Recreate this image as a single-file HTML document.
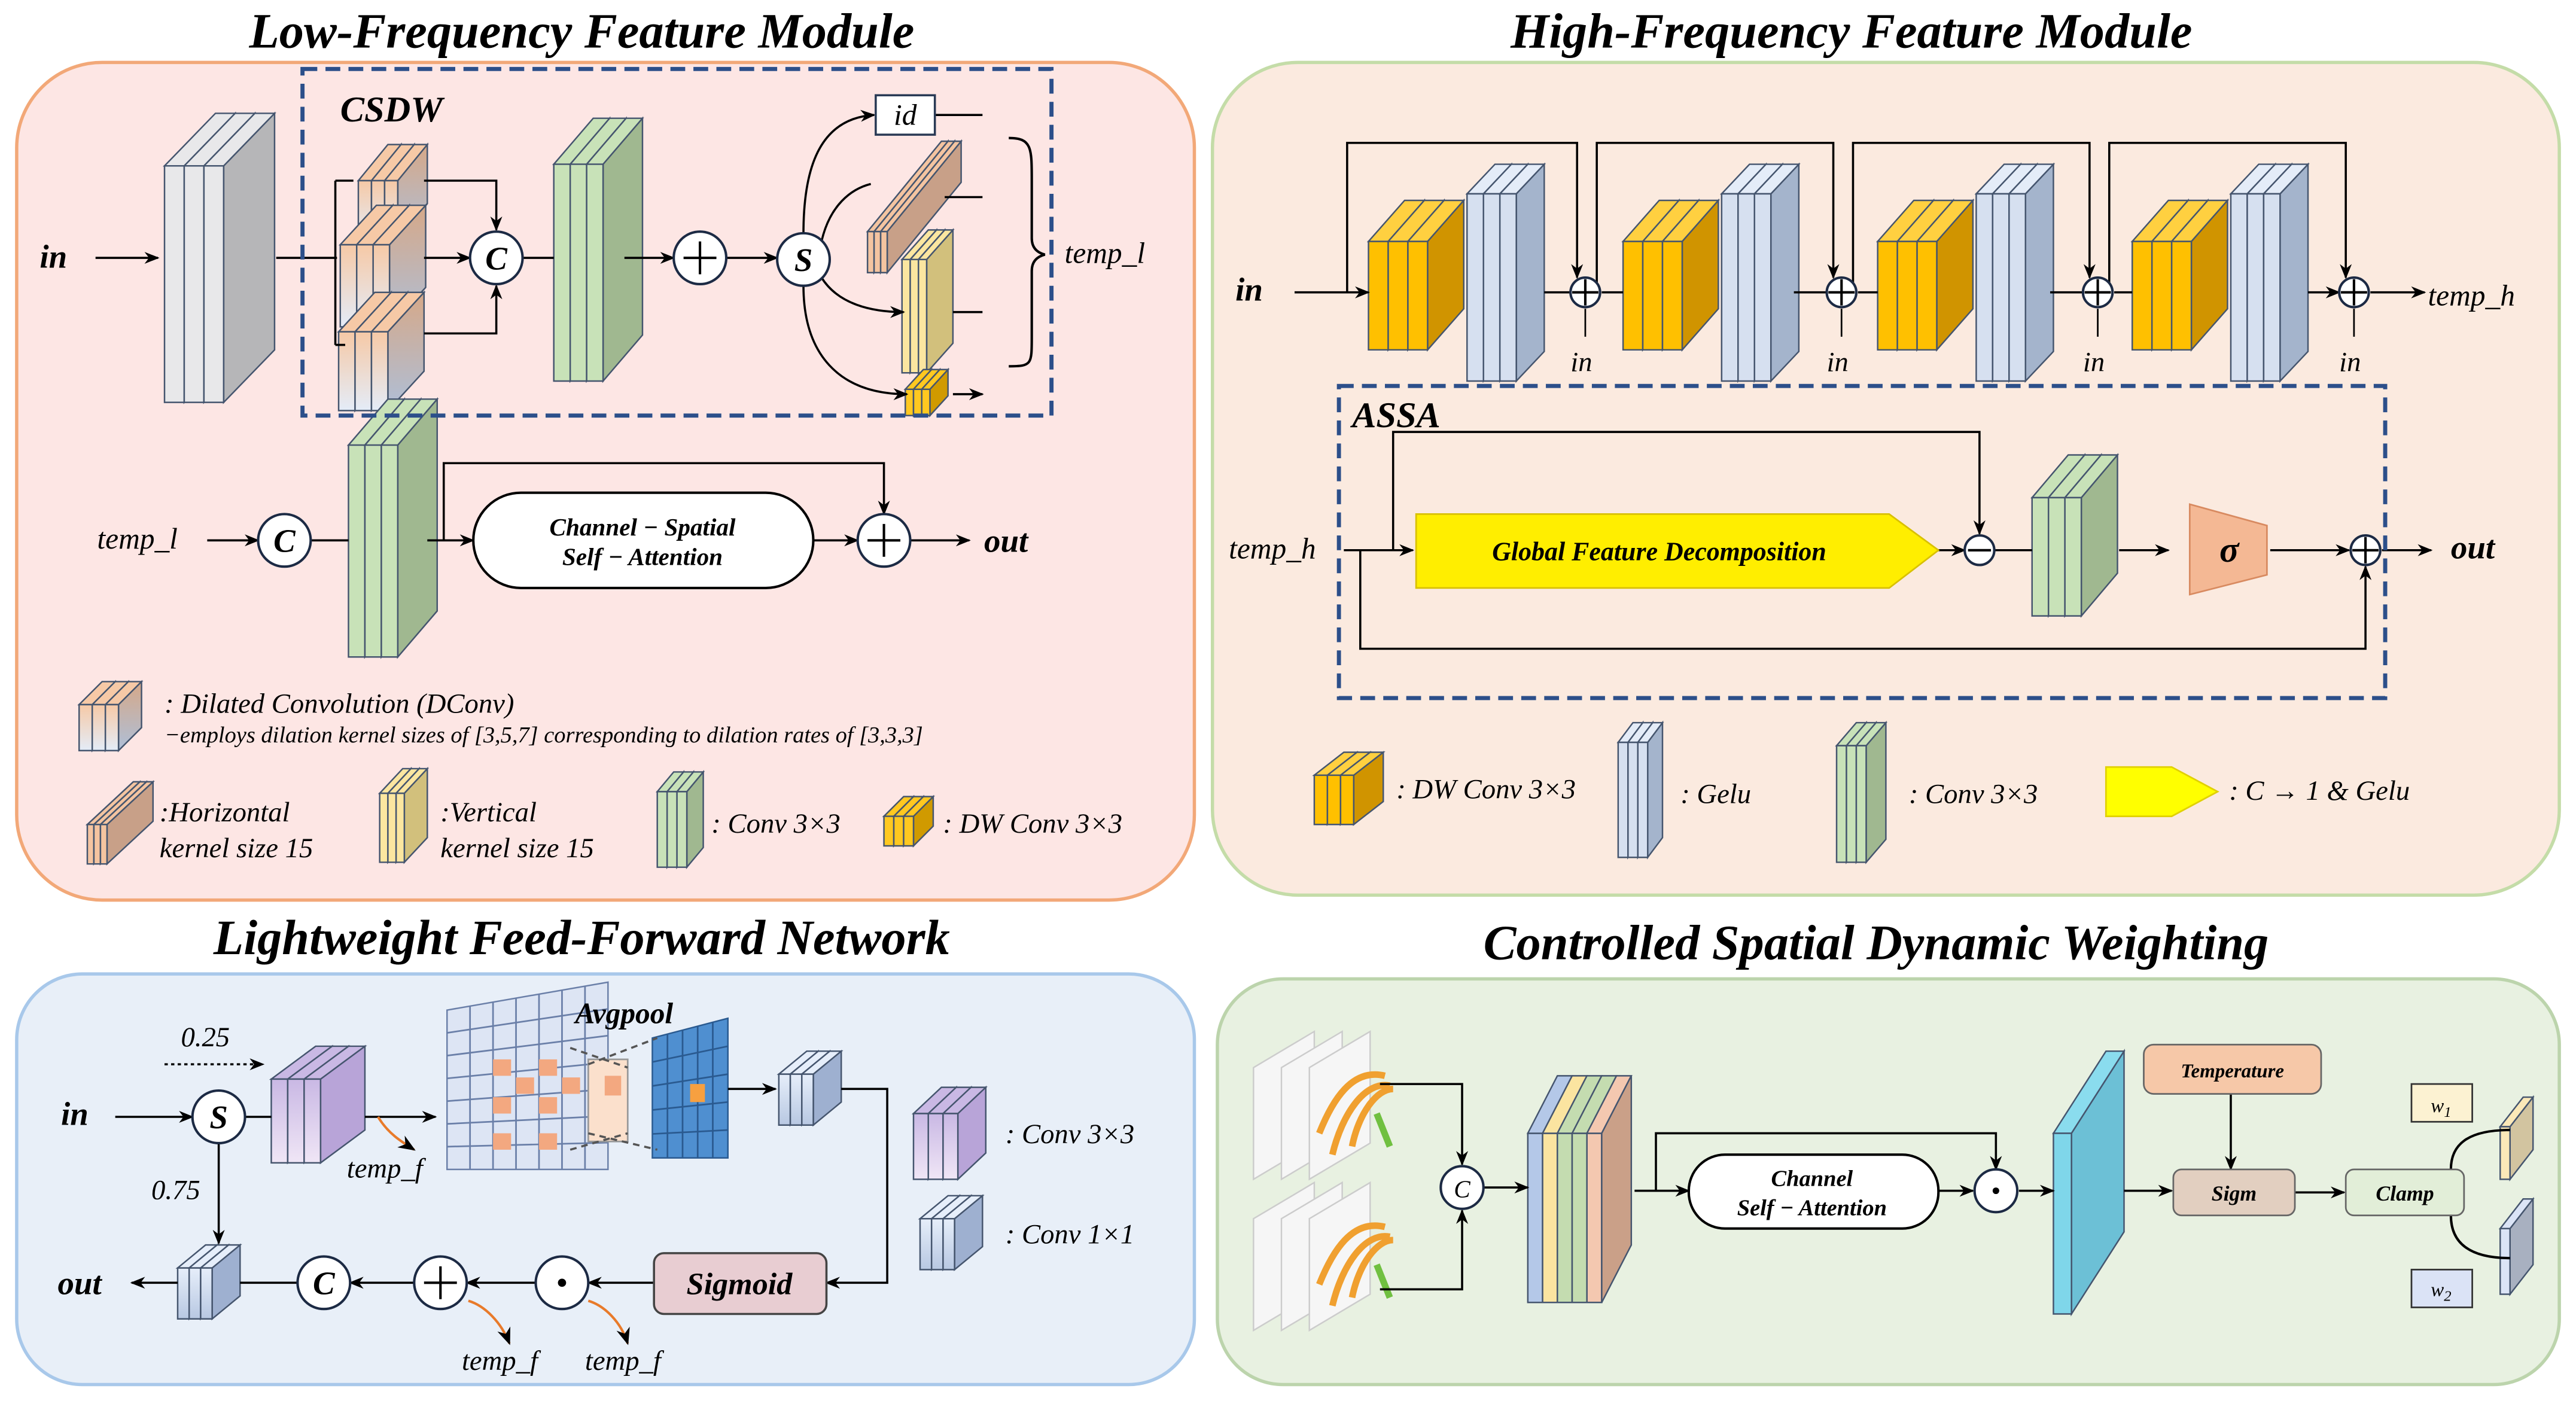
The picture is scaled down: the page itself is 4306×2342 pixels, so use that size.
<!DOCTYPE html>
<html><head><meta charset="utf-8"><style>
html,body{margin:0;padding:0;background:#fff}
svg{display:block}
text{font-family:"Liberation Serif",serif;font-style:italic}
.t{font-size:30px;font-weight:bold}
.b{font-weight:bold}
</style></head><body>
<svg id="s" xmlns="http://www.w3.org/2000/svg" width="4306" height="2342" viewBox="0 0 1568 853">
<defs>
<marker id="a" viewBox="0 0 10 10" refX="9" refY="5" markerWidth="7" markerHeight="7" orient="auto"><path d="M0,1 L10,5 L0,9 L3,5z" fill="#000"/></marker>
<linearGradient id="dc" x1="0" y1="0" x2="0" y2="1"><stop offset="0" stop-color="#f6c9a6"/><stop offset="1" stop-color="#e4ecf8"/></linearGradient>
<linearGradient id="dcs" x1="0" y1="0" x2="0" y2="1"><stop offset="0" stop-color="#d6a888"/><stop offset="1" stop-color="#aebfd8"/></linearGradient>
<linearGradient id="pu" x1="0" y1="0" x2="0" y2="1"><stop offset="0" stop-color="#c9b8e4"/><stop offset="1" stop-color="#f0e6f6"/></linearGradient>
<linearGradient id="bl" x1="0" y1="0" x2="0" y2="1"><stop offset="0" stop-color="#e6eefa"/><stop offset="1" stop-color="#b8c8e2"/></linearGradient>
</defs>
<rect x="10" y="38" width="717" height="510" rx="52" fill="#fde6e4" stroke="#f2a878" stroke-width="2"/>
<rect x="738" y="38" width="820" height="507" rx="52" fill="#fbeadf" stroke="#c4dca8" stroke-width="2"/>
<rect x="10" y="593" width="717" height="250" rx="40" fill="#e8eff8" stroke="#a8c8ea" stroke-width="2"/>
<rect x="741" y="596" width="817" height="247" rx="40" fill="#e8f1e1" stroke="#bcd4ac" stroke-width="2"/>
<text class="t" x="354" y="29" text-anchor="middle">Low-Frequency Feature Module</text>
<text class="t" x="1127" y="29" text-anchor="middle">High-Frequency Feature Module</text>
<text class="t" x="354" y="581" text-anchor="middle">Lightweight Feed-Forward Network</text>
<text class="t" x="1142" y="584" text-anchor="middle">Controlled Spatial Dynamic Weighting</text>
<g id="shapes"></g>
<g fill="none" stroke="#000" stroke-width="1.3">
<path d="M58,157H96" marker-end="url(#a)"/>
<path d="M168,157H205M204,110V210M204,110H215M204,210H210"/>
<path d="M258,110H302V140" marker-end="url(#a)"/>
<path d="M258,157H286" marker-end="url(#a)"/>
<path d="M258,203H302V174" marker-end="url(#a)"/>
<path d="M318,157H337"/>
<path d="M380,157H410" marker-end="url(#a)"/>
<path d="M442,157H473" marker-end="url(#a)"/>
<path d="M489,142C489,100 500,72 532,70" marker-end="url(#a)"/>
<path d="M500,147C505,125 518,115 530,112"/>
<path d="M500,169C510,185 530,190 550,190" marker-end="url(#a)"/>
<path d="M489,174C489,215 510,240 552,240" marker-end="url(#a)"/>
<path d="M569,70H598M575,120H598M580,190H598M580,240H598" marker-end="url(#a)"/>
<path d="M614,84C628,84 628,90 628,110V145Q628,153 636,155Q628,157 628,165V205C628,222 628,223 614,223" stroke-width="1.5"/>
<path d="M126,329H157" marker-end="url(#a)"/>
<path d="M189,329H212"/>
<path d="M260,329H288" marker-end="url(#a)"/>
<path d="M270,329V282H538V313" marker-end="url(#a)"/>
<path d="M495,329H522" marker-end="url(#a)"/>
<path d="M554,329H590" marker-end="url(#a)"/>
<path d="M788,178H833" marker-end="url(#a)"/>
<path d="M940,178H956M975,178H988M1092,178H1112M1131,178H1143M1248,178H1268M1287,178H1298M1405,178H1424" marker-end="url(#a)"/>
<path d="M1443,178H1476" marker-end="url(#a)"/>
<path d="M820,178V87H960V169" marker-end="url(#a)"/>
<path d="M972,178V87H1116V169" marker-end="url(#a)"/>
<path d="M1128,178V87H1272V169" marker-end="url(#a)"/>
<path d="M1284,178V87H1428V169" marker-end="url(#a)"/>
<path d="M965,188V205M1121,188V205M1277,188V205M1433,188V205" stroke-width="1"/>
<path d="M818,335H860" marker-end="url(#a)"/>
<path d="M848,335V263H1205V325" marker-end="url(#a)"/>
<path d="M828,335V395H1440V345" marker-end="url(#a)"/>
<path d="M1180,335H1196" marker-end="url(#a)"/>
<path d="M1214,335H1237"/>
<path d="M1290,335H1320" marker-end="url(#a)"/>
<path d="M1382,335H1430" marker-end="url(#a)"/>
<path d="M1450,335H1480" marker-end="url(#a)"/>
<path d="M100,648H160" stroke-dasharray="2,2" marker-end="url(#a)"/>
<path d="M70,680H117" marker-end="url(#a)"/>
<path d="M149,680H165"/>
<path d="M222,680H265" marker-end="url(#a)"/>
<path d="M443,663H472" marker-end="url(#a)"/>
<path d="M512,663H540V781H503" marker-end="url(#a)"/>
<path d="M398,781H358" marker-end="url(#a)"/>
<path d="M326,781H284" marker-end="url(#a)"/>
<path d="M252,781H213" marker-end="url(#a)"/>
<path d="M181,781H146"/>
<path d="M108,781H80" marker-end="url(#a)"/>
<path d="M133,696V757" marker-end="url(#a)"/>
<path d="M347,638L382,650M347,700L382,690M358,648L400,632M358,690L400,700" stroke-dasharray="4,3" stroke="#555"/>
<path d="M840,660H890V709" marker-end="url(#a)"/>
<path d="M840,785H890V737" marker-end="url(#a)"/>
<path d="M903,723H930" marker-end="url(#a)"/>
<path d="M995,725H1028" marker-end="url(#a)"/>
<path d="M1008,725V690H1215V712" marker-end="url(#a)"/>
<path d="M1180,725H1201" marker-end="url(#a)"/>
<path d="M1229,725H1250" marker-end="url(#a)"/>
<path d="M1293,725H1322" marker-end="url(#a)"/>
<path d="M1358,665V712" marker-end="url(#a)"/>
<path d="M1397,726H1427" marker-end="url(#a)"/>
<path d="M1492,712C1492,695 1505,688 1528,688M1492,740C1492,758 1505,766 1528,766" stroke-width="1.5"/>
</g>
<g stroke="#e87a2a" stroke-width="1.5" fill="none">
<path d="M230,680C236,690 244,695 252,700" marker-end="url(#a)"/>
<path d="M285,792C295,795 305,805 310,818" marker-end="url(#a)"/>
<path d="M358,792C368,795 378,805 382,818" marker-end="url(#a)"/>
</g>
<rect x="184" y="42" width="456" height="211" fill="none" stroke="#2c4f8a" stroke-width="2.5" stroke-dasharray="9,5"/>
<rect x="815" y="235" width="637" height="190" fill="none" stroke="#2c4f8a" stroke-width="2.5" stroke-dasharray="9,5"/>
<g fill="#fff" stroke="#1c2a44" stroke-width="1.5">
<circle cx="302" cy="157" r="16"/><circle cx="426" cy="157" r="16"/><circle cx="489" cy="158" r="16"/>
<circle cx="173" cy="329" r="16"/><circle cx="538" cy="329" r="16"/>
<circle cx="965" cy="178" r="9"/><circle cx="1121" cy="178" r="9"/><circle cx="1277" cy="178" r="9"/><circle cx="1433" cy="178" r="9"/>
<circle cx="1205" cy="335" r="9"/><circle cx="1440" cy="335" r="9"/>
<circle cx="133" cy="680" r="16"/><circle cx="197" cy="781" r="16"/><circle cx="268" cy="781" r="16"/><circle cx="342" cy="781" r="16"/>
<circle cx="890" cy="723" r="13"/><circle cx="1215" cy="725" r="13"/>
</g>
<g stroke="#000" stroke-width="1.5">
<path d="M416,157H436M426,147V167M528,329H548M538,319V339M258,781H278M268,771V791"/>
<path d="M957,178H973M965,170V186M1113,178H1129M1121,170V186M1269,178H1285M1277,170V186M1425,178H1441M1433,170V186M1432,335H1448M1440,327V343M1198,335H1212"/>
</g>
<circle cx="342" cy="781" r="2.5"/><circle cx="1215" cy="725" r="2"/>
<g font-size="20" text-anchor="middle" style="font-style:normal;font-weight:bold">
<text x="302" y="164">C</text><text x="489" y="165">S</text><text x="173" y="336">C</text><text x="133" y="687">S</text><text x="197" y="788">C</text>
</g>
<text x="890" y="729" font-size="15" text-anchor="middle">C</text>
<rect x="533" y="58" width="36" height="24" fill="#fff" stroke="#2a3a55" stroke-width="1.3"/>
<text x="551" y="76" font-size="18" text-anchor="middle">id</text>
<rect x="288" y="300" width="207" height="58" rx="29" fill="#fff" stroke="#000" stroke-width="1.5"/>
<text x="391" y="326" font-size="15" text-anchor="middle" class="b">Channel − Spatial</text>
<text x="391" y="344" font-size="15" text-anchor="middle" class="b">Self − Attention</text>
<polygon points="862,313 1150,313 1180,335 1150,358 862,358" fill="#ffee00" stroke="#d8c000"/>
<text x="1010" y="341" font-size="16" class="b" text-anchor="middle">Global Feature Decomposition</text>
<polygon points="1333,307 1380,320 1380,350 1333,362" fill="#f4b894" stroke="#d88a60"/>
<text x="1357" y="342" font-size="22" class="b" text-anchor="middle">σ</text>
<polygon points="1282,467 1322,467 1350,482 1322,497 1282,497" fill="#ffff00" stroke="#e0d000"/>
<rect x="398" y="763" width="105" height="37" rx="6" fill="#e8cdd2" stroke="#444" stroke-width="1.3"/>
<text x="450" y="788" font-size="19" class="b" text-anchor="middle">Sigmoid</text>
<rect x="1028" y="703" width="152" height="45" rx="22" fill="#fff" stroke="#000" stroke-width="1.5"/>
<text x="1103" y="722" font-size="14" class="b" text-anchor="middle">Channel</text>
<text x="1103" y="740" font-size="14" class="b" text-anchor="middle">Self − Attention</text>
<rect x="1305" y="636" width="108" height="30" rx="6" fill="#f6c8a8" stroke="#666"/>
<text x="1359" y="656" font-size="12" class="b" text-anchor="middle">Temperature</text>
<rect x="1323" y="712" width="74" height="28" rx="5" fill="#e2cfc0" stroke="#666"/>
<text x="1360" y="731" font-size="13" class="b" text-anchor="middle">Sigm</text>
<rect x="1428" y="712" width="72" height="28" rx="5" fill="#e2eed8" stroke="#666"/>
<text x="1464" y="731" font-size="13" class="b" text-anchor="middle">Clamp</text>
<rect x="1468" y="660" width="37" height="23" fill="#fcf2d2" stroke="#333"/>
<text x="1486" y="677" font-size="12" text-anchor="middle">w<tspan font-size="9" dy="3">1</tspan></text>
<rect x="1468" y="773" width="37" height="23" fill="#dbe3f6" stroke="#333"/>
<text x="1486" y="789" font-size="12" text-anchor="middle">w<tspan font-size="9" dy="3">2</tspan></text>
<g font-size="20" class="b">
<text x="24" y="163">in</text><text x="599" y="336">out</text>
<text x="752" y="183">in</text><text x="1492" y="340">out</text>
<text x="37" y="685">in</text><text x="35" y="788">out</text>
</g>
<text x="207" y="74" font-size="22" class="b">CSDW</text>
<text x="823" y="260" font-size="22" class="b">ASSA</text>
<text x="350" y="623" font-size="18" class="b">Avgpool</text>
<g font-size="18">
<text x="648" y="160">temp_l</text><text x="59" y="334">temp_l</text>
<text x="1478" y="186">temp_h</text><text x="748" y="340">temp_h</text>
</g>
<g font-size="17">
<text x="956" y="226">in</text><text x="1112" y="226">in</text><text x="1268" y="226">in</text><text x="1424" y="226">in</text>
<text x="110" y="637">0.25</text><text x="92" y="730">0.75</text>
<text x="211" y="717">temp_f</text><text x="281" y="834">temp_f</text><text x="356" y="834">temp_f</text>
</g>
<g font-size="17">
<text x="100" y="434">: Dilated Convolution (DConv)</text>
<text x="100" y="452" font-size="14">−employs dilation kernel sizes of [3,5,7] corresponding to dilation rates of [3,3,3]</text>
<text x="97" y="500">:Horizontal</text><text x="97" y="522">kernel size 15</text>
<text x="268" y="500">:Vertical</text><text x="268" y="522">kernel size 15</text>
<text x="433" y="507">: Conv 3×3</text><text x="574" y="507">: DW Conv 3×3</text>
<text x="850" y="486">: DW Conv 3×3</text><text x="1023" y="489">:  Gelu</text>
<text x="1162" y="489">: Conv 3×3</text><text x="1357" y="487">: C → 1 &amp; Gelu</text>
<text x="612" y="696">: Conv 3×3</text><text x="612" y="757">: Conv 1×1</text>
</g>
</svg>
<script>
var g=document.getElementById('shapes'),NS='http://www.w3.org/2000/svg';
function P(pts,f,s){var p=document.createElementNS(NS,'polygon');p.setAttribute('points',pts);p.setAttribute('fill',f);p.setAttribute('stroke',s||'#45556e');p.setAttribute('stroke-width','0.9');g.appendChild(p);}
function R(x,y,w,h,f,s){var p=document.createElementNS(NS,'rect');p.setAttribute('x',x);p.setAttribute('y',y);p.setAttribute('width',w);p.setAttribute('height',h);p.setAttribute('fill',f);p.setAttribute('stroke',s||'#888');g.appendChild(p);}
function L(x1,y1,x2,y2,c){var l=document.createElementNS(NS,'line');l.setAttribute('x1',x1);l.setAttribute('x2',x2);l.setAttribute('y1',y1);l.setAttribute('y2',y2);l.setAttribute('stroke',c);g.appendChild(l);}
// stack: total height h (top y to bottom y+h)
function S(x,y,n,t,dx,dy,h,fr,sd,tp){for(var i=0;i<n;i++){var X=x+i*t,Y=y+dy;
P([X+t,Y, X+t+dx,y, X+t+dx,y+h-dy, X+t,y+h].join(','),sd);
P([X,Y, X+t,Y, X+t+dx,y, X+dx,y].join(','),tp||fr);
P([X,Y, X+t,Y, X+t,y+h, X,y+h].join(','),fr);}}
S(100,69,3,12,31,32,176,'#e8e8ea','#b6b6b8');
S(218,88,3,8,18,22,58,'url(#dc)','url(#dcs)','#f6c9a6');
S(207,125,3,10,22,24,74,'url(#dc)','url(#dcs)','#f6c9a6');
S(206,178,3,10,22,24,72,'url(#dc)','url(#dcs)','#f6c9a6');
S(337,72,3,10,24,28,160,'#c8e2b8','#a0b890','#c8e2b8');
S(528,86,3,4,45,55,80,'#f4c4a0','#c8a088');
S(549,140,3,5,16,18,87,'#fbe6a0','#d2c07c');
S(551,225,3,5,11,12,28,'#ffc820','#d09a00');
S(212,243,3,10,24,28,157,'#c8e2b8','#a0b890','#c8e2b8');
S(48,415,3,8,14,14,42,'url(#dc)','url(#dcs)','#f6c9a6');
S(53,476,3,4,28,26,50,'#f4c4a0','#c8a088');
S(231,468,3,5,14,15,57,'#fbe6a0','#d2c07c');
S(400,470,3,6,10,12,58,'#c8e2b8','#a0b890');
S(538,485,3,6,12,12,30,'#ffc820','#d09a00');
var bx=[833,988,1143,1298];
for(var k=0;k<4;k++){var x=bx[k];
S(x,122,3,12,22,25,91,'#ffc000','#d09400','#ffd040');
S(x+60,100,3,10,17,18,132,'#d6e0f0','#a4b4cc','#e4ecf8');}
S(1237,277,3,10,22,26,98,'#c8e2b8','#a0b890','#c8e2b8');
S(800,458,3,8,18,14,44,'#ffc000','#d09400','#ffd040');
S(985,440,3,6,9,12,82,'#d6e0f0','#a4b4cc','#e4ecf8');
S(1118,440,3,6,12,14,85,'#c8e2b8','#a0b890');
S(165,637,3,10,27,20,71,'url(#pu)','#b8a4d8','#c9b8e4');
S(474,640,3,7,17,14,45,'url(#bl)','#9eb0d0','#e6eefa');
S(108,758,3,7,17,14,45,'url(#bl)','#9eb0d0','#e6eefa');
S(556,662,3,9,17,16,56,'url(#pu)','#b8a4d8','#c9b8e4');
S(560,728,3,7,17,14,45,'url(#bl)','#9eb0d0','#e6eefa');
(function(){var x0=272,y0=598,w=98,h=114;P([x0,615, x0+w,y0, x0+w,y0+h, x0,y0+h].join(','),'#dde5f4','#6a7fa8');
for(var i=1;i<7;i++){var xx=x0+w*i/7;L(xx,615-17*i/7,xx,y0+h,'#6a7fa8');}
for(var j=1;j<7;j++){var yy=615+(y0+h-615)*j/7;L(x0,yy,x0+w,yy-17*(1-j/7),'#6a7fa8');}
[[300,645],[328,645],[300,668],[328,668],[314,656],[342,656],[300,690],[328,690]].forEach(function(c){R(c[0],c[1],11,10,'#f3a880','none');});
R(358,645,24,50,'#fbe0cc','#999');R(368,655,10,12,'#f3a880','none');
P('397,632 443,620 443,705 397,705','#4f8fd0','#2a5a90');
for(var i=1;i<5;i++){L(397+46*i/5,632-12*i/5,397+46*i/5,705,'#2a5a90');L(397,632+73*i/5,443,620+85*i/5,'#2a5a90');}
R(420,660,9,11,'#f7a040','none');})();
function IMG(x,y){for(var i=0;i<3;i++){var X=x+i*17;P([X,y+22, X+37,y, X+37,y+68, X,y+90].join(','),'#f6f6f6','#ccc');}
var e=document.createElementNS(NS,'path');e.setAttribute('d','M'+(x+40)+','+(y+62)+'c8,-20 20,-40 40,-35M'+(x+48)+','+(y+75)+'c6,-25 20,-45 35,-42M'+(x+60)+','+(y+70)+'c4,-20 15,-35 25,-35');e.setAttribute('stroke','#f0a030');e.setAttribute('stroke-width','4');e.setAttribute('fill','none');g.appendChild(e);
var f=document.createElementNS(NS,'path');f.setAttribute('d','M'+(x+75)+','+(y+50)+'l8,20');f.setAttribute('stroke','#70c040');f.setAttribute('stroke-width','4');g.appendChild(f);}
IMG(763,628);IMG(763,720);
var cols=[['#b4c8e8','#8ea4c8'],['#fbe4a0','#d8c080'],['#c4dcb0','#a0b890'],['#c4dcb0','#a0b890'],['#f4c8b0','#caa088']];
for(var i=0;i<5;i++){var X=930+i*9;P([X,690,X+9,690,X+9,793,X,793].join(','),cols[i][0]);P([X,690,X+9,690,X+27,655,X+18,655].join(','),cols[i][0]);}
P('975,690 993,655 993,758 975,793','#caa088');
S(1250,640,1,11,32,50,160,'#7fd6ea','#6cc0d6','#8adcee');
S(1522,668,1,6,14,18,50,'#fbe8b8','#d2c4a0');
S(1522,730,1,6,14,18,58,'#dbe4f6','#a8b0c0');
</script>
</body></html>
